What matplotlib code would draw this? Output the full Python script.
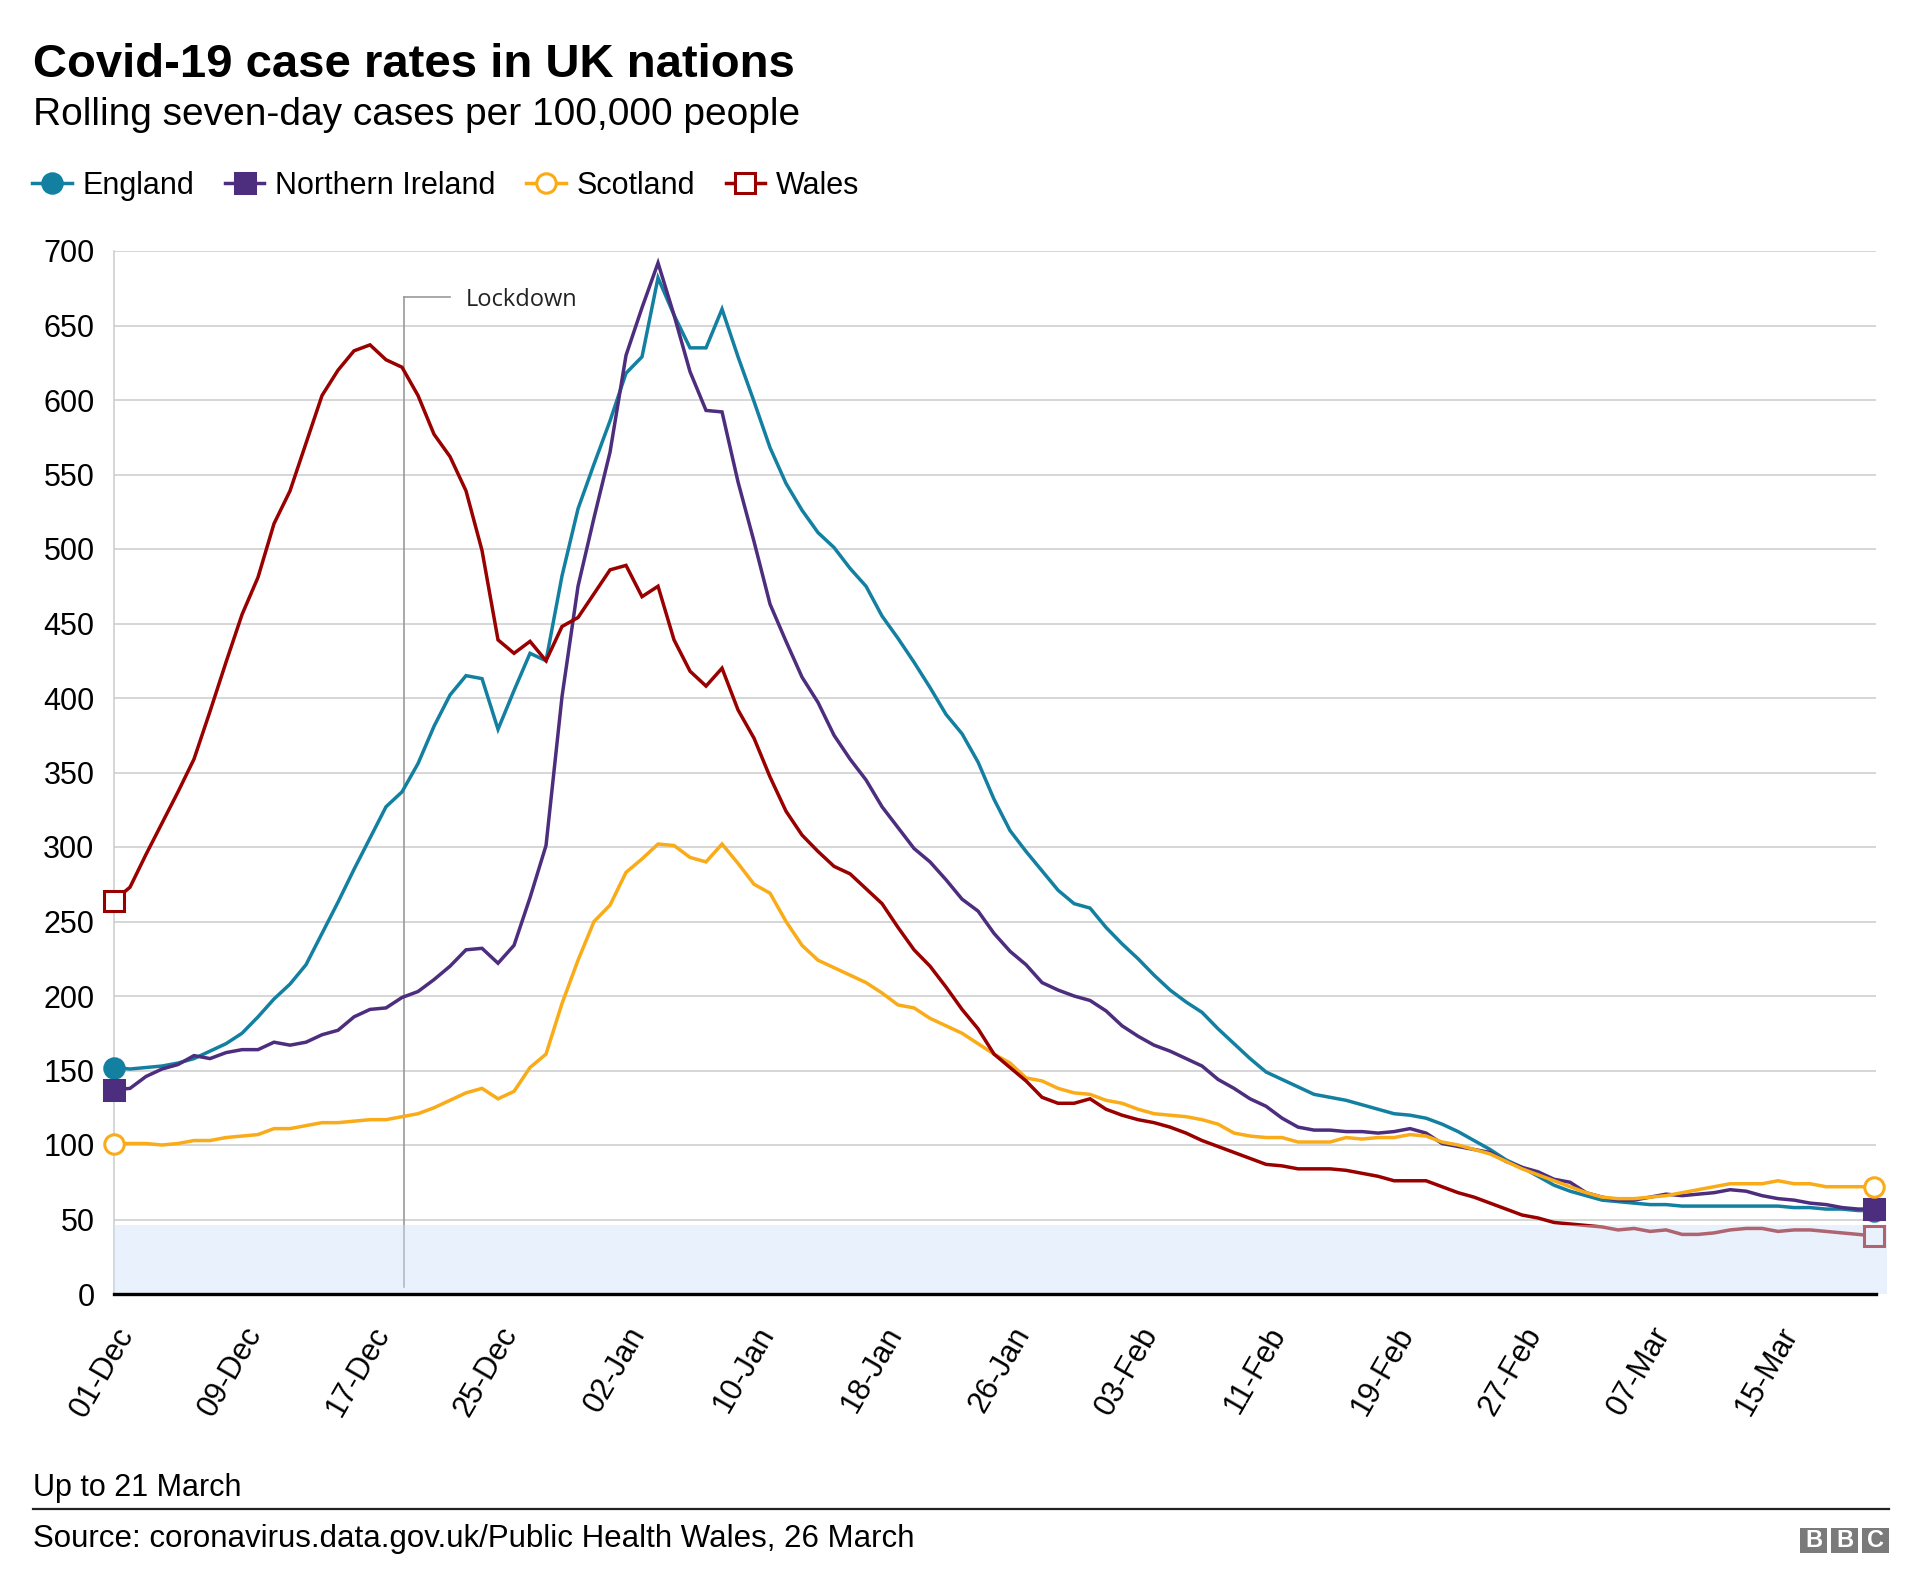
import matplotlib.pyplot as plt
from matplotlib.lines import Line2D
from matplotlib.patches import Rectangle

plt.rcParams['font.family'] = ['Liberation Sans', 'DejaVu Sans']

# daily values, 01-Dec to 21-Mar (111 days)
england = [152, 151, 152, 153, 155, 158, 163, 168, 175, 186,
           198, 208, 221, 242, 263, 285, 306, 327, 337, 356,
           381, 402, 415, 413, 379, 405, 430, 425, 482, 527,
           557, 586, 618, 629, 682, 657, 635, 635, 661, 629,
           599, 568, 544, 526, 511, 501, 487, 475, 455, 440,
           424, 407, 389, 376, 357, 332, 311, 297, 284, 271,
           262, 259, 246, 235, 225, 214, 204, 196, 189, 178,
           168, 158, 149, 144, 139, 134, 132, 130, 127, 124,
           121, 120, 118, 114, 109, 103, 97, 90, 85, 79,
           73, 69, 66, 63, 62, 61, 60, 60, 59, 59,
           59, 59, 59, 59, 59, 58, 58, 57, 57, 56, 56]
northern_ireland = [137, 138, 146, 151, 154, 160, 158, 162, 164, 164,
                    169, 167, 169, 174, 177, 186, 191, 192, 199, 203,
                    211, 220, 231, 232, 222, 234, 266, 301, 401, 475,
                    521, 565, 630, 662, 692, 657, 619, 593, 592, 545,
                    505, 463, 438, 414, 397, 375, 359, 345, 327, 313,
                    299, 290, 278, 265, 257, 242, 230, 221, 209, 204,
                    200, 197, 190, 180, 173, 167, 163, 158, 153, 144,
                    138, 131, 126, 118, 112, 110, 110, 109, 109, 108,
                    109, 111, 108, 101, 99, 97, 95, 89, 85, 82,
                    77, 75, 68, 65, 63, 63, 65, 67, 66, 67,
                    68, 70, 69, 66, 64, 63, 61, 60, 58, 57, 57]
scotland = [101, 101, 101, 100, 101, 103, 103, 105, 106, 107,
            111, 111, 113, 115, 115, 116, 117, 117, 119, 121,
            125, 130, 135, 138, 131, 136, 152, 161, 195, 224,
            250, 261, 283, 292, 302, 301, 293, 290, 302, 289,
            275, 269, 250, 234, 224, 219, 214, 209, 202, 194,
            192, 185, 180, 175, 168, 161, 155, 145, 143, 138,
            135, 134, 130, 128, 124, 121, 120, 119, 117, 114,
            108, 106, 105, 105, 102, 102, 102, 105, 104, 105,
            105, 107, 106, 102, 100, 97, 94, 89, 84, 80,
            76, 72, 68, 65, 64, 64, 65, 66, 68, 70,
            72, 74, 74, 74, 76, 74, 74, 72, 72, 72, 72]
wales = [264, 273, 295, 316, 337, 359, 391, 424, 456, 481,
         517, 539, 571, 603, 620, 633, 637, 627, 622, 603,
         577, 562, 539, 499, 439, 430, 438, 425, 448, 454,
         470, 486, 489, 468, 475, 439, 418, 408, 420, 392,
         373, 347, 324, 308, 297, 287, 282, 272, 262, 246,
         231, 220, 206, 191, 178, 161, 152, 143, 132, 128,
         128, 131, 124, 120, 117, 115, 112, 108, 103, 99,
         95, 91, 87, 86, 84, 84, 84, 83, 81, 79,
         76, 76, 76, 72, 68, 65, 61, 57, 53, 51,
         48, 47, 46, 45, 43, 44, 42, 43, 40, 40,
         41, 43, 44, 44, 42, 43, 43, 42, 41, 40, 39]

tick_labels = ['01-Dec', '09-Dec', '17-Dec', '25-Dec', '02-Jan', '10-Jan', '18-Jan',
               '26-Jan', '03-Feb', '11-Feb', '19-Feb', '27-Feb', '07-Mar', '15-Mar']
days = list(range(len(england)))

fig = plt.figure(figsize=(19.2, 15.95), dpi=100)
ax = fig.add_axes([114/1920, 301/1595, 1762/1920, 1043/1595])

series = [
    (england, '#1380a1', 'o', '#1380a1', 'England'),
    (northern_ireland, '#4d2d7d', 's', '#4d2d7d', 'Northern Ireland'),
    (scotland, '#faab18', 'o', 'white', 'Scotland'),
    (wales, '#990000', 's', 'white', 'Wales'),
]

handles = []
for vals, col, mk, face, name in series:
    ax.plot(days, vals, color=col, lw=2.5, zorder=3, solid_joinstyle='miter')
    ax.plot([days[0], days[-1]], [vals[0], vals[-1]], ls='none', marker=mk,
            markersize=14, markerfacecolor=face, markeredgecolor=col,
            markeredgewidth=2.2, zorder=4, clip_on=False)
    handles.append(Line2D([], [], color=col, lw=2.5, marker=mk, markersize=14,
                          markerfacecolor=face, markeredgecolor=col, markeredgewidth=2.2))

# pale band at the bottom, drawn over the lines
ax.fill_between([0, 110.8], 0, 46, color='#cce0f9', alpha=0.45, lw=0,
                zorder=5, clip_on=False)

# lockdown marker
ax.plot([18.15, 18.15], [5, 669], color='#9a9a9a', lw=1.2, zorder=2)
ax.plot([18.15, 21.0], [669, 669], color='#9a9a9a', lw=1.2, zorder=2)
ax.text(22.0, 667, 'Lockdown', fontsize=17, family=['Open Sans', 'DejaVu Sans'],
        color='#222222', va='center', ha='left')

ax.set_xlim(0, 110.12)
ax.set_ylim(0, 700)
ax.set_yticks(range(0, 701, 50))
ax.set_xticks(days[::8])
ax.set_xticklabels(tick_labels, rotation=60, ha='right', va='top',
                   rotation_mode='anchor')
ax.tick_params(axis='both', length=0, labelsize=22, colors='black')
ax.tick_params(axis='y', pad=14)
ax.tick_params(axis='x', pad=20)
ax.grid(axis='y', color='#cccccc', lw=1.1)
ax.set_axisbelow(True)
for s in ['top', 'right', 'bottom']:
    ax.spines[s].set_visible(False)
ax.spines['left'].set_color('#cccccc')
ax.spines['left'].set_linewidth(1.1)
ax.axhline(0, color='black', lw=2.4, zorder=7, clip_on=False)

fig.text(33/1920, 1 - 77/1595, 'Covid-19 case rates in UK nations', fontsize=34,
         fontweight='bold', va='baseline', ha='left')
fig.text(33/1920, 1 - 125/1595, 'Rolling seven-day cases per 100,000 people',
         fontsize=28, va='baseline', ha='left')

fig.legend(handles=handles, labels=[s[4] for s in series],
           loc='center left', bbox_to_anchor=(32/1920, 1 - 186/1595), ncol=4,
           frameon=False, fontsize=22, handlelength=1.3, handletextpad=0.35,
           columnspacing=1.0, borderpad=0, borderaxespad=0)

fig.text(33/1920, 1 - 1496/1595, 'Up to 21 March', fontsize=22, va='baseline', ha='left')
fig.add_artist(Line2D([33/1920, 1889/1920], [1 - 1509/1595, 1 - 1509/1595],
                      color='#222222', lw=1.6))
fig.text(33/1920, 1 - 1547/1595, 'Source: coronavirus.data.gov.uk/Public Health Wales, 26 March',
         fontsize=22.5, va='baseline', ha='left')

# BBC blocks
for k, letter in enumerate('BBC'):
    x0 = (1800 + 31*k) / 1920
    fig.add_artist(Rectangle((x0, 1 - 1553/1595), 27/1920, 25/1595,
                             transform=fig.transFigure, color='#7a7a7a', lw=0))
    fig.text(x0 + 13.5/1920, 1 - 1540.5/1595, letter, color='white', fontsize=17,
             fontweight='bold', ha='center', va='center')

fig.savefig('out.png', dpi=100)
